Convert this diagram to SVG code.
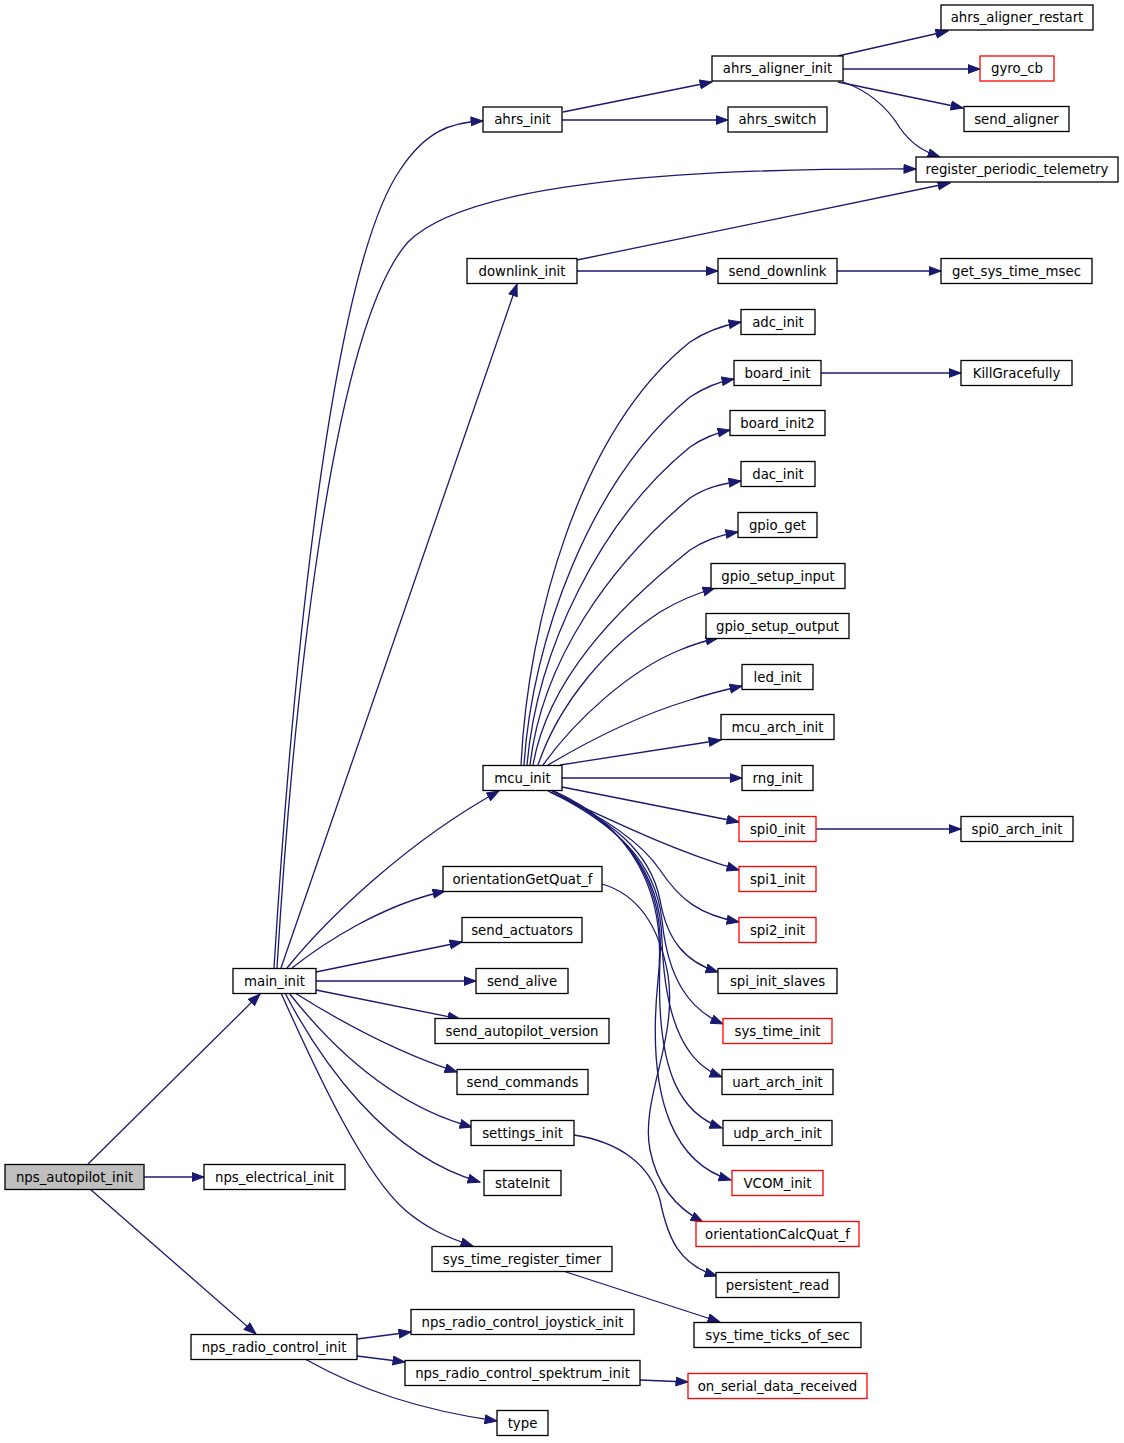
<svg xmlns="http://www.w3.org/2000/svg" width="1124" height="1443" viewBox="0 0 1124 1443">
<style>
.node rect{fill:#ffffff;stroke:#000000;stroke-width:1.3}
.node.red rect{stroke:#ff0000}
.node.root rect{fill:#bfbfbf}
.node text{font-family:"DejaVu Sans","Liberation Sans",sans-serif;font-size:13.3px;text-anchor:middle;fill:#000000}
#edges path{fill:none;stroke:#191970;stroke-width:1.3;marker-end:url(#ah)}
</style>
<defs>
<marker id="ah" markerUnits="userSpaceOnUse" markerWidth="14" markerHeight="11" refX="12.5" refY="5" orient="auto">
<path d="M0.5,0.6 L12.5,5 L0.5,9.4 z" fill="#191970" stroke="#191970" stroke-width="1"/>
</marker>
</defs>
<rect width="1124" height="1443" fill="#ffffff"/>
<g id="edges">
<path d="M88,1164 L260,994"/>
<path d="M144,1177 L204,1177"/>
<path d="M90,1189 L256,1334"/>
<path d="M274,968 C288,740 325,280 400,170 C425,132 450,122 483,121"/>
<path d="M277,968 C292,720 330,330 408,242 C470,180 700,168 916,169"/>
<path d="M281,968 L517,284"/>
<path d="M287,968 C330,915 410,840 499,791"/>
<path d="M292,968 C325,942 382,905 445,891"/>
<path d="M316,972 L462,942"/>
<path d="M316,981 L476,981"/>
<path d="M316,990 L460,1019"/>
<path d="M295,993 C330,1015 390,1050 457,1072"/>
<path d="M289,993 C330,1045 390,1105 472,1127"/>
<path d="M285,993 C320,1060 385,1155 480,1182"/>
<path d="M281,993 C320,1080 365,1175 405,1210 C425,1227 445,1237 473,1246"/>
<path d="M563,112 L712,82"/>
<path d="M562,120 L728,120"/>
<path d="M838,56 L948,31"/>
<path d="M843,69 L980,69"/>
<path d="M838,82 L963,108"/>
<path d="M843,82 C875,93 892,115 900,128 C912,145 925,152 940,157"/>
<path d="M577,260 L950,183"/>
<path d="M577,271 L718,271"/>
<path d="M837,271 L941,271"/>
<path d="M521,765 C528,620 580,430 690,342 C705,332 720,326 741,322"/>
<path d="M524,765 C532,640 590,480 690,397 C705,387 718,382 734,379"/>
<path d="M527,765 C537,650 600,520 690,447 C703,438 716,433 730,430"/>
<path d="M530,765 C542,660 610,565 690,498 C705,488 720,484 741,481"/>
<path d="M533,765 C548,680 615,610 690,550 C705,540 720,535 738,532"/>
<path d="M538,765 C560,700 610,645 660,612 C680,600 698,593 715,588"/>
<path d="M543,765 C575,720 630,670 680,650 C692,645 704,641 718,638"/>
<path d="M548,765 C590,740 640,715 690,700 C708,694 724,690 742,686"/>
<path d="M560,765 L721,740"/>
<path d="M562,778 L742,778"/>
<path d="M562,787 L739,822"/>
<path d="M548,791 C600,815 670,850 739,870"/>
<path d="M550,792 C600,815 640,840 660,870 C680,900 700,915 739,922"/>
<path d="M550,792 C610,820 650,850 660,900 C667,940 685,962 718,972"/>
<path d="M551,792 C615,825 655,860 662,920 C668,980 690,1010 723,1024"/>
<path d="M552,791 C620,825 660,870 662,940 C665,1030 690,1065 722,1077"/>
<path d="M553,791 C625,825 665,880 660,960 C655,1080 685,1115 722,1128"/>
<path d="M554,791 C630,825 668,890 658,980 C645,1110 680,1165 731,1180"/>
<path d="M602,884 C640,895 660,930 668,975 C678,1040 640,1100 650,1150 C658,1190 680,1210 703,1222"/>
<path d="M574,1135 C620,1142 650,1165 660,1200 C668,1240 680,1265 717,1276"/>
<path d="M563,1271 L720,1322"/>
<path d="M816,829 L961,829"/>
<path d="M821,373 L961,373"/>
<path d="M357,1339 L411,1332"/>
<path d="M357,1356 L405,1362"/>
<path d="M305,1359 C360,1390 420,1410 497,1421"/>
<path d="M640,1380 L688,1382"/>
</g>
<g id="nps_autopilot_init" class="node root"><rect x="5" y="1164.5" width="139" height="25"/><text x="74.5" y="1181.5">nps_autopilot_init</text></g>
<g id="nps_electrical_init" class="node"><rect x="204" y="1164.5" width="141" height="25"/><text x="274.5" y="1181.5">nps_electrical_init</text></g>
<g id="main_init" class="node"><rect x="233" y="968.5" width="83" height="25"/><text x="274.5" y="985.5">main_init</text></g>
<g id="nps_radio_control_init" class="node"><rect x="191" y="1334.5" width="166" height="25"/><text x="274" y="1351.5">nps_radio_control_init</text></g>
<g id="ahrs_init" class="node"><rect x="483" y="107" width="79" height="25"/><text x="522.5" y="124">ahrs_init</text></g>
<g id="downlink_init" class="node"><rect x="467" y="258.5" width="110" height="25"/><text x="522" y="275.5">downlink_init</text></g>
<g id="mcu_init" class="node"><rect x="483" y="765.5" width="79" height="25"/><text x="522.5" y="782.5">mcu_init</text></g>
<g id="orientationGetQuat_f" class="node"><rect x="443" y="866.5" width="159" height="25"/><text x="522.5" y="883.5">orientationGetQuat_f</text></g>
<g id="send_actuators" class="node"><rect x="462" y="917.5" width="120" height="25"/><text x="522" y="934.5">send_actuators</text></g>
<g id="send_alive" class="node"><rect x="476" y="968.5" width="92" height="25"/><text x="522" y="985.5">send_alive</text></g>
<g id="send_autopilot_version" class="node"><rect x="435" y="1018.5" width="174" height="25"/><text x="522" y="1035.5">send_autopilot_version</text></g>
<g id="send_commands" class="node"><rect x="457" y="1069.5" width="131" height="25"/><text x="522.5" y="1086.5">send_commands</text></g>
<g id="settings_init" class="node"><rect x="471" y="1120.5" width="103" height="25"/><text x="522.5" y="1137.5">settings_init</text></g>
<g id="stateInit" class="node"><rect x="484" y="1170.5" width="77" height="25"/><text x="522.5" y="1187.5">stateInit</text></g>
<g id="sys_time_register_timer" class="node"><rect x="432" y="1246.5" width="180" height="25"/><text x="522" y="1263.5">sys_time_register_timer</text></g>
<g id="nps_radio_control_joystick_init" class="node"><rect x="411" y="1309.5" width="223" height="25"/><text x="522.5" y="1326.5">nps_radio_control_joystick_init</text></g>
<g id="nps_radio_control_spektrum_init" class="node"><rect x="405" y="1360.5" width="235" height="25"/><text x="522.5" y="1377.5">nps_radio_control_spektrum_init</text></g>
<g id="type" class="node"><rect x="497" y="1410.5" width="51" height="25"/><text x="522.5" y="1427.5">type</text></g>
<g id="ahrs_aligner_init" class="node"><rect x="712" y="56" width="131" height="25"/><text x="777.5" y="73">ahrs_aligner_init</text></g>
<g id="ahrs_switch" class="node"><rect x="728" y="107" width="99" height="25"/><text x="777.5" y="124">ahrs_switch</text></g>
<g id="send_downlink" class="node"><rect x="718" y="258.5" width="119" height="25"/><text x="777.5" y="275.5">send_downlink</text></g>
<g id="adc_init" class="node"><rect x="741" y="309.5" width="74" height="25"/><text x="778" y="326.5">adc_init</text></g>
<g id="board_init" class="node"><rect x="734" y="360.5" width="87" height="25"/><text x="777.5" y="377.5">board_init</text></g>
<g id="board_init2" class="node"><rect x="730" y="410.5" width="95" height="25"/><text x="777.5" y="427.5">board_init2</text></g>
<g id="dac_init" class="node"><rect x="741" y="461.5" width="74" height="25"/><text x="778" y="478.5">dac_init</text></g>
<g id="gpio_get" class="node"><rect x="738" y="512.5" width="79" height="25"/><text x="777.5" y="529.5">gpio_get</text></g>
<g id="gpio_setup_input" class="node"><rect x="711" y="563.5" width="134" height="25"/><text x="778" y="580.5">gpio_setup_input</text></g>
<g id="gpio_setup_output" class="node"><rect x="706" y="613.5" width="143" height="25"/><text x="777.5" y="630.5">gpio_setup_output</text></g>
<g id="led_init" class="node"><rect x="742" y="664.5" width="71" height="25"/><text x="777.5" y="681.5">led_init</text></g>
<g id="mcu_arch_init" class="node"><rect x="721" y="714.5" width="113" height="25"/><text x="777.5" y="731.5">mcu_arch_init</text></g>
<g id="rng_init" class="node"><rect x="742" y="765.5" width="71" height="25"/><text x="777.5" y="782.5">rng_init</text></g>
<g id="spi0_init" class="node red"><rect x="739" y="816.5" width="77" height="25"/><text x="777.5" y="833.5">spi0_init</text></g>
<g id="spi1_init" class="node red"><rect x="739" y="866.5" width="77" height="25"/><text x="777.5" y="883.5">spi1_init</text></g>
<g id="spi2_init" class="node red"><rect x="739" y="917.5" width="77" height="25"/><text x="777.5" y="934.5">spi2_init</text></g>
<g id="spi_init_slaves" class="node"><rect x="718" y="968.5" width="119" height="25"/><text x="777.5" y="985.5">spi_init_slaves</text></g>
<g id="sys_time_init" class="node red"><rect x="723" y="1018.5" width="109" height="25"/><text x="777.5" y="1035.5">sys_time_init</text></g>
<g id="uart_arch_init" class="node"><rect x="722" y="1069.5" width="111" height="25"/><text x="777.5" y="1086.5">uart_arch_init</text></g>
<g id="udp_arch_init" class="node"><rect x="723" y="1120.5" width="109" height="25"/><text x="777.5" y="1137.5">udp_arch_init</text></g>
<g id="VCOM_init" class="node red"><rect x="732" y="1170.5" width="91" height="25"/><text x="777.5" y="1187.5">VCOM_init</text></g>
<g id="orientationCalcQuat_f" class="node red"><rect x="696" y="1221.5" width="163" height="25"/><text x="777.5" y="1238.5">orientationCalcQuat_f</text></g>
<g id="persistent_read" class="node"><rect x="716" y="1272.5" width="123" height="25"/><text x="777.5" y="1289.5">persistent_read</text></g>
<g id="sys_time_ticks_of_sec" class="node"><rect x="694" y="1322.5" width="167" height="25"/><text x="777.5" y="1339.5">sys_time_ticks_of_sec</text></g>
<g id="on_serial_data_received" class="node red"><rect x="688" y="1373.5" width="179" height="25"/><text x="777.5" y="1390.5">on_serial_data_received</text></g>
<g id="ahrs_aligner_restart" class="node"><rect x="941" y="5" width="152" height="25"/><text x="1017" y="22">ahrs_aligner_restart</text></g>
<g id="gyro_cb" class="node red"><rect x="980" y="56" width="74" height="25"/><text x="1017" y="73">gyro_cb</text></g>
<g id="send_aligner" class="node"><rect x="964" y="106.5" width="105" height="25"/><text x="1016.5" y="123.5">send_aligner</text></g>
<g id="register_periodic_telemetry" class="node"><rect x="916" y="157" width="202" height="25"/><text x="1017" y="174">register_periodic_telemetry</text></g>
<g id="get_sys_time_msec" class="node"><rect x="941" y="258.5" width="151" height="25"/><text x="1016.5" y="275.5">get_sys_time_msec</text></g>
<g id="KillGracefully" class="node"><rect x="961" y="360.5" width="111" height="25"/><text x="1016.5" y="377.5">KillGracefully</text></g>
<g id="spi0_arch_init" class="node"><rect x="961" y="816.5" width="112" height="25"/><text x="1017" y="833.5">spi0_arch_init</text></g>
</svg>
